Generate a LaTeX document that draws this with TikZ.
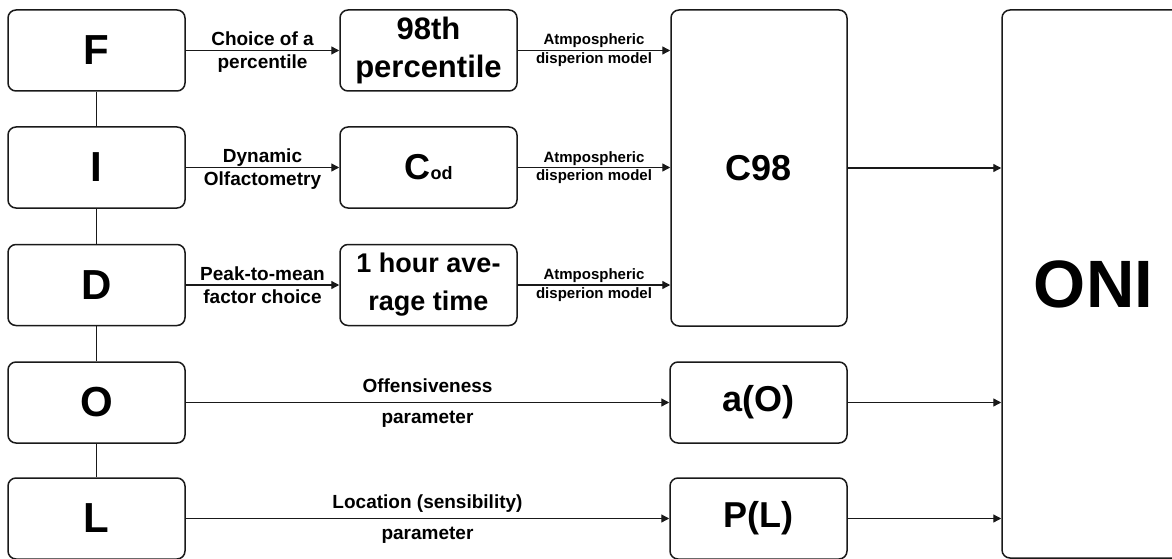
\documentclass[tikz,border=0pt]{standalone}
\usepackage{fontspec}
\setmainfont{Liberation Sans}
\usetikzlibrary{arrows.meta}
\begin{document}
\begin{tikzpicture}[x=1pt,y=-1pt,
  box/.style={draw=black!90, line width=1.5pt, rounded corners=8pt, minimum width=177pt, minimum height=81pt, align=center, font=\bfseries, inner sep=0pt},
  arr/.style={-{Triangle[length=8pt,width=8pt]}, line width=1.3pt, draw=black!90},
  link/.style={line width=1.5pt, draw=black!90},
  lbl/.style={font=\bfseries\fontsize{19}{21}\selectfont, inner sep=0pt, anchor=base},
  slbl/.style={font=\bfseries\fontsize{15}{17}\selectfont, inner sep=0pt, anchor=base},
  big/.style={font=\bfseries\fontsize{42}{46}\selectfont}]
\useasboundingbox (0,0) rectangle (1172,559);

% left column
\node[box, big] (F) at (96.5,50.5) {F};
\node[box, big] (I) at (96.5,167.5) {I};
\node[box, big] (D) at (96.5,285) {D};
\node[box, big] (O) at (96.5,402.5) {O};
\node[box, big] (L) at (96.5,518.5) {L};
\draw[link] (F) -- (I);
\draw[link] (I) -- (D);
\draw[link] (D) -- (O);
\draw[link] (O) -- (L);

% middle column
\node[box, font=\bfseries\fontsize{31}{38}\selectfont] (P98) at (428.5,50.5) {98th\\percentile};
\node[box, font=\bfseries\fontsize{36}{40}\selectfont] (Cod) at (428.5,167.5) {C{\fontsize{18}{20}\selectfont od}};
\node[box, font=\bfseries\fontsize{27}{38}\selectfont] (H) at (428.5,285) {1 hour ave-\\rage time};

% right column
\node[box, minimum width=176pt, minimum height=316pt, font=\bfseries\fontsize{36}{40}\selectfont] (C98) at (759,168) {C98};
\node[box, font=\bfseries\fontsize{36}{40}\selectfont] (aO) at (758.5,402.5) {a(O)};
\node[box, font=\bfseries\fontsize{36}{40}\selectfont] (PL) at (758.5,518.5) {P(L)};
\node[box, minimum width=183pt, minimum height=548pt, font=\bfseries\fontsize{67}{70}\selectfont] (ONI) at (1093.5,284) {ONI};

% arrows left -> middle
\draw[arr] (F) -- (P98);
\node[lbl] at (262.5,45.5) {Choice of a};
\node[lbl] at (262.5,68.5) {percentile};
\draw[arr] (I) -- (Cod);
\node[lbl] at (262.5,162.5) {Dynamic};
\node[lbl] at (262.5,185.5) {Olfactometry};
\draw[arr] (D) -- (H);
\node[lbl] at (262.5,280) {Peak-to-mean};
\node[lbl] at (262.5,303) {factor choice};

% middle -> C98
\draw[arr] (P98.east) -- (P98.east -| C98.west);
\node[slbl] at (594,45) {Atmpospheric};
\node[slbl] at (594,63.5) {disperion model};
\draw[arr] (Cod.east) -- (Cod.east -| C98.west);
\node[slbl] at (594,162) {Atmpospheric};
\node[slbl] at (594,180.5) {disperion model};
\draw[arr] (H.east) -- (H.east -| C98.west);
\node[slbl] at (594,279.5) {Atmpospheric};
\node[slbl] at (594,298) {disperion model};

% O, L -> a(O), P(L)
\draw[arr] (O) -- (aO);
\node[lbl] at (427.5,392.5) {Offensiveness};
\node[lbl] at (427.5,423.5) {parameter};
\draw[arr] (L) -- (PL);
\node[lbl] at (427.5,508.5) {Location (sensibility)};
\node[lbl] at (427.5,539.5) {parameter};

% to ONI
\draw[arr] (C98.east) -- (C98.east -| ONI.west);
\draw[arr] (aO.east) -- (aO.east -| ONI.west);
\draw[arr] (PL.east) -- (PL.east -| ONI.west);
\end{tikzpicture}
\end{document}
